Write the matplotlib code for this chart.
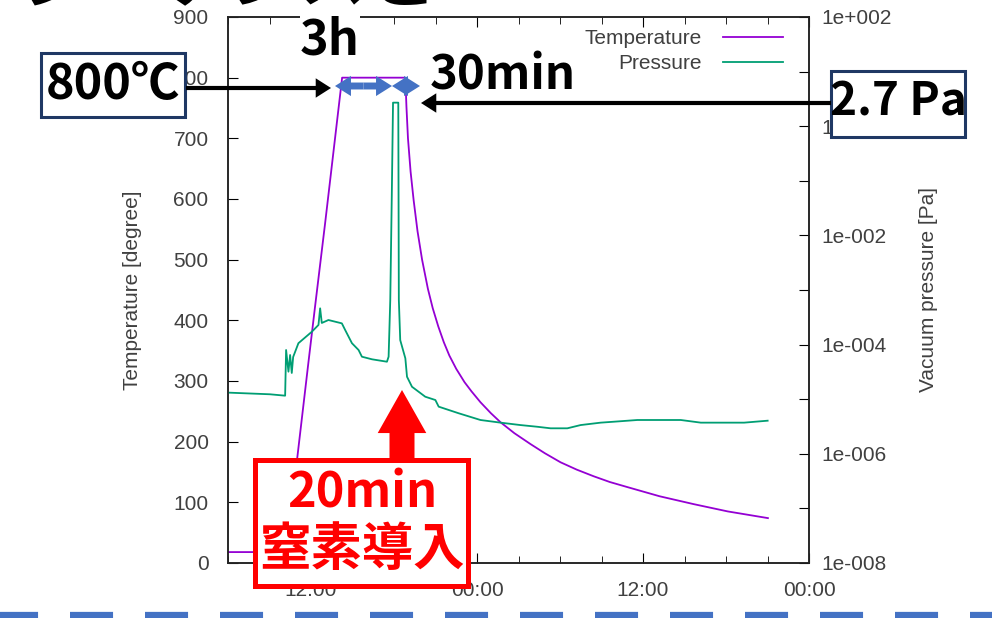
import numpy as np
import matplotlib.pyplot as plt
from matplotlib.patches import Rectangle, FancyArrowPatch
from matplotlib.ticker import FixedLocator, FuncFormatter, NullLocator, MultipleLocator

plt.rcParams['font.family'] = ['Liberation Sans', 'DejaVu Sans']
plt.rcParams['lines.scale_dashes'] = False

# ------------------------------------------------------------
# data (hours since 06:00 of day 1)
# ------------------------------------------------------------
temp_hours = [0.0, 4.2, 5.0, 5.8, 6.3, 7.02, 8.25, 12.82, 12.9, 13.01, 13.2, 13.42, 13.7,
              14.03, 14.45, 14.8, 15.2, 15.6, 16.0, 16.5, 17.1, 17.6, 18.25, 19.0, 19.7,
              20.7, 21.87, 22.9, 24.04, 25.2, 26.43, 27.6, 28.89, 31.2, 33.67, 36.13, 39.03]
temp_values = [18, 18, 172, 328, 424, 560, 800, 800, 752, 700, 645, 598, 547,
               500, 452, 420, 390, 364, 342, 320, 298, 283, 265, 247, 232,
               214, 196, 181, 166, 154, 143, 133.5, 125, 110, 97, 85, 74]

pres_hours = [0.0, 3.04, 4.13, 4.20, 4.37, 4.49, 4.61, 4.71, 5.09, 6.06, 6.54, 6.66,
              6.78, 7.26, 8.23, 8.47, 8.96, 9.44, 9.68, 10.41, 11.49, 11.61, 11.73,
              11.84, 11.93, 12.31, 12.35, 12.45, 12.82, 12.94, 13.30, 14.26, 14.99,
              15.23, 16.68, 18.25, 19.70, 21.14, 22.35, 23.32, 24.53, 25.49, 26.94,
              27.90, 29.59, 32.73, 34.18, 37.31, 39.01]
pres_values = [1.32e-5, 1.23e-5, 1.16e-5, 7.96e-5, 3.19e-5, 6.46e-5, 3.02e-5, 5.93e-5,
               1.06e-4, 1.72e-4, 2.29e-4, 4.62e-4, 2.49e-4, 2.82e-4, 2.45e-4, 1.85e-4,
               1.06e-4, 7.96e-5, 6.0e-5, 5.38e-5, 4.86e-5, 6.0e-5, 6.56e-4, 5.27e-2,
               2.7, 2.7, 6.56e-4, 1.21e-4, 5.61e-5, 2.58e-5, 1.69e-5, 1.11e-5, 9.66e-6,
               7.30e-6, 5.52e-6, 4.16e-6, 3.72e-6, 3.36e-6, 3.13e-6, 2.93e-6, 2.93e-6,
               3.36e-6, 3.72e-6, 3.87e-6, 4.16e-6, 4.16e-6, 3.72e-6, 3.72e-6, 4.04e-6]

x_tick_hours = [6, 18, 30, 42]
x_tick_labels = ['12:00', '00:00', '12:00', '00:00']
y_ticks = list(range(0, 901, 100))
y2_exponents = list(range(-8, 3))

# ------------------------------------------------------------
# chart
# ------------------------------------------------------------
W, H = 992, 618
fig = plt.figure(figsize=(W / 100, H / 100), dpi=100)
ax = fig.add_axes([228 / W, 1 - 563 / H, (809 - 228) / W, (563 - 17) / H])
ax2 = ax.twinx()

l1, = ax.plot(temp_hours, temp_values, color='#9400D3', lw=1.3, label='Temperature')
l2, = ax2.plot(pres_hours, pres_values, color='#009E73', lw=1.3, label='Pressure')

tick_col = '#404040'
ax.set_xlim(0, 42)
ax.set_ylim(0, 900)
ax.set_xticks(x_tick_hours, x_tick_labels)
ax.xaxis.set_minor_locator(MultipleLocator(3))
ax.set_yticks(y_ticks)
ax.tick_params(axis='x', which='both', direction='in', top=True, bottom=True,
               labelsize=15, labelcolor=tick_col, pad=13)
ax.tick_params(axis='x', which='major', length=7)
ax.tick_params(axis='x', which='minor', length=5)
ax.tick_params(axis='y', direction='in', length=7, labelsize=15, labelcolor=tick_col, pad=14)

ax2.set_yscale('log')
ax2.set_ylim(1e-8, 1e2)
ax2.yaxis.set_major_locator(FixedLocator([10.0 ** e for e in y2_exponents]))
ax2.yaxis.set_minor_locator(NullLocator())


def y2_fmt(v, pos):
    e = int(round(np.log10(v)))
    return f"1e{e:+04d}" if e % 2 == 0 else ''


ax2.yaxis.set_major_formatter(FuncFormatter(y2_fmt))
ax2.tick_params(axis='y', direction='in', length=7, labelsize=15, labelcolor=tick_col, pad=9)

for a in (ax, ax2):
    for s in a.spines.values():
        s.set_color('#222222')
        s.set_linewidth(1.1)

ax.set_ylabel('Temperature [degree]', fontsize=15, color=tick_col)
ax.yaxis.set_label_coords(-0.148, 0.5)
ax2.set_ylabel('Vacuum pressure [Pa]', fontsize=15, color=tick_col)
ax2.yaxis.set_label_coords(1.19, 0.5)

ax2.legend([l1, l2], ['Temperature', 'Pressure'], loc='upper right', markerfirst=False,
           frameon=False, fontsize=15, labelcolor=tick_col, handlelength=2.9,
           handletextpad=1.0, labelspacing=0.3, borderpad=0, borderaxespad=0,
           bbox_to_anchor=((783 - 228) / 581, (563 - 29) / 546))

# ------------------------------------------------------------
# slide annotations (pixel coordinates of the overlay)
# ------------------------------------------------------------
ov = fig.add_axes([0, 0, 1, 1])
ov.set_xlim(0, W)
ov.set_ylim(H, 0)
ov.axis('off')

jp = ['Noto Sans CJK JP', 'DejaVu Sans']
navy = '#1F3864'
blue = '#4472C4'

# slide title, mostly cut off at the top edge
ov.text(20, 2, 'シーケンスと', fontsize=50, fontweight='bold', family=jp,
        ha='left', va='baseline', color='black')

ov.add_patch(Rectangle((41, 53), 144, 64, fc='white', ec=navy, lw=2.2))
ov.text(113, 84, '800℃', fontsize=35, fontweight='bold', family=jp, ha='center', va='center')
ov.add_patch(Rectangle((831, 71), 134, 66, fc='white', ec=navy, lw=2.2))
ov.text(898, 103, '2.7 Pa', fontsize=33, fontweight='bold', family=jp, ha='center', va='center')

ov.text(330, 40, '3h', fontsize=35, fontweight='bold', family=jp, ha='center', va='center',
        bbox=dict(fc='white', ec='none', pad=0))
ov.text(503, 75, '30min', fontsize=34, fontweight='bold', family=jp, ha='center', va='center')

black_arrow = 'simple,head_length=1.1,head_width=1.4,tail_width=0.3'
ov.add_patch(FancyArrowPatch((186, 88), (331, 88), arrowstyle=black_arrow,
                             mutation_scale=10, color='black', lw=0, shrinkA=0, shrinkB=0))
ov.add_patch(FancyArrowPatch((831, 103), (421, 103), arrowstyle=black_arrow,
                             mutation_scale=10, color='black', lw=0, shrinkA=0, shrinkB=0))

blue_arrow = 'simple,head_length=1.15,head_width=1.45,tail_width=0.5'
for (xa, xb) in [(335, 392), (392, 420)]:
    xm = (xa + xb) / 2
    for xe in (xa, xb):
        ov.add_patch(FancyArrowPatch((xm, 86), (xe, 86), arrowstyle=blue_arrow,
                                     mutation_scale=10, color=blue, lw=0,
                                     shrinkA=0, shrinkB=0))

ov.add_patch(FancyArrowPatch((402, 463), (402, 390),
                             arrowstyle='simple,head_length=3.1,head_width=3.5,tail_width=1.8',
                             mutation_scale=10, color='#FF0000', lw=0, shrinkA=0, shrinkB=0))
ov.add_patch(Rectangle((255, 460), 213, 126, fc='white', ec='#FF0000', lw=3.6))
ov.text(362, 493, '20min', fontsize=35, fontweight='bold', family=jp, color='#FF0000',
        ha='center', va='center')
ov.text(362, 550, '窒素導入', fontsize=37, fontweight='bold', family=jp, color='#FF0000',
        ha='center', va='center')

ov.plot([0, W], [615, 615], color=blue, lw=4.5, solid_capstyle='butt',
        linestyle=(3.6, (31, 23)), dash_capstyle='butt')

fig.savefig('out.png', dpi=100)
